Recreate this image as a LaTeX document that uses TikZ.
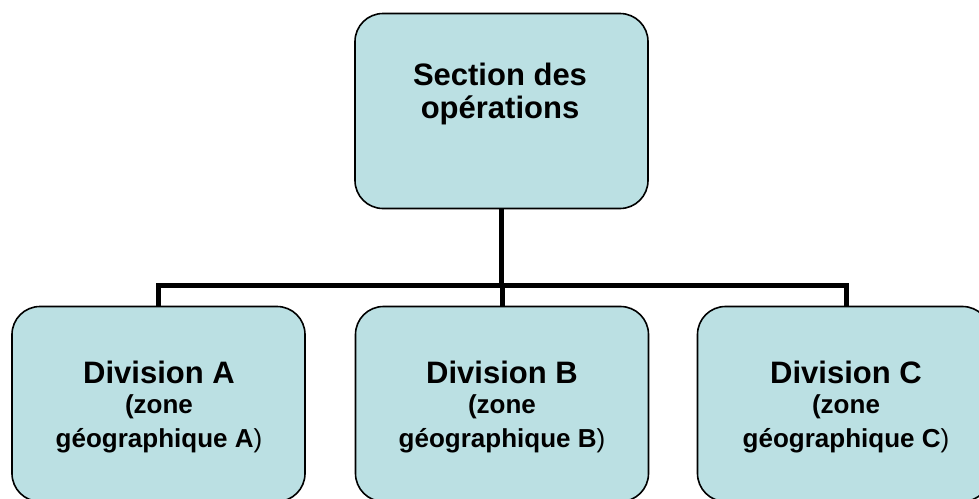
\documentclass[tikz,border=0pt]{standalone}
\usepackage{fontspec}
\setmainfont{Liberation Sans}
\definecolor{boxfill}{RGB}{187,224,227}
\begin{document}
\begin{tikzpicture}[x=1pt,y=-1pt,
  orgbox/.style={draw=black, line width=1.6pt, fill=boxfill, rounded corners=28pt,
    minimum width=293pt, minimum height=195pt, inner sep=0pt},
  conn/.style={draw=black, line width=5pt, line join=miter},
  bigtxt/.style={font=\fontsize{31}{33}\selectfont\bfseries, align=center, inner sep=0pt},
]
\useasboundingbox (0,0) rectangle (979,498);
% boxes
\node[orgbox] (top) at (501.5,111) {};
\node[orgbox] (A) at (158.5,404) {};
\node[orgbox] (B) at (502,404) {};
\node[orgbox] (C) at (844,404) {};
% connectors
\coordinate (bus) at (502,285.5);
\coordinate (cdrop) at ([xshift=2.5pt]C.north);
\draw[conn] (top.south) -- (top.south |- bus);
\draw[conn] (A.north) -- (A.north |- bus) -- (cdrop |- bus) -- (cdrop);
\draw[conn] (B.north |- bus) -- (B.north);
% texts
\node[bigtxt, anchor=base] (ttop) at (500,118) {Section des\\opérations};
\node[bigtxt, anchor=base] (tA) at (159,447) {Division A\\[-3pt]{\fontsize{26}{30}\selectfont(zone}\\[1pt]{\fontsize{26}{30}\selectfont géographique A\mdseries)}};
\node[bigtxt, anchor=base] (tB) at (502,447) {Division B\\[-3pt]{\fontsize{26}{30}\selectfont(zone}\\[1pt]{\fontsize{26}{30}\selectfont géographique B\mdseries)}};
\node[bigtxt, anchor=base] (tC) at (846,447) {Division C\\[-3pt]{\fontsize{26}{30}\selectfont(zone}\\[1pt]{\fontsize{26}{30}\selectfont géographique C\mdseries)}};
\end{tikzpicture}
\end{document}
